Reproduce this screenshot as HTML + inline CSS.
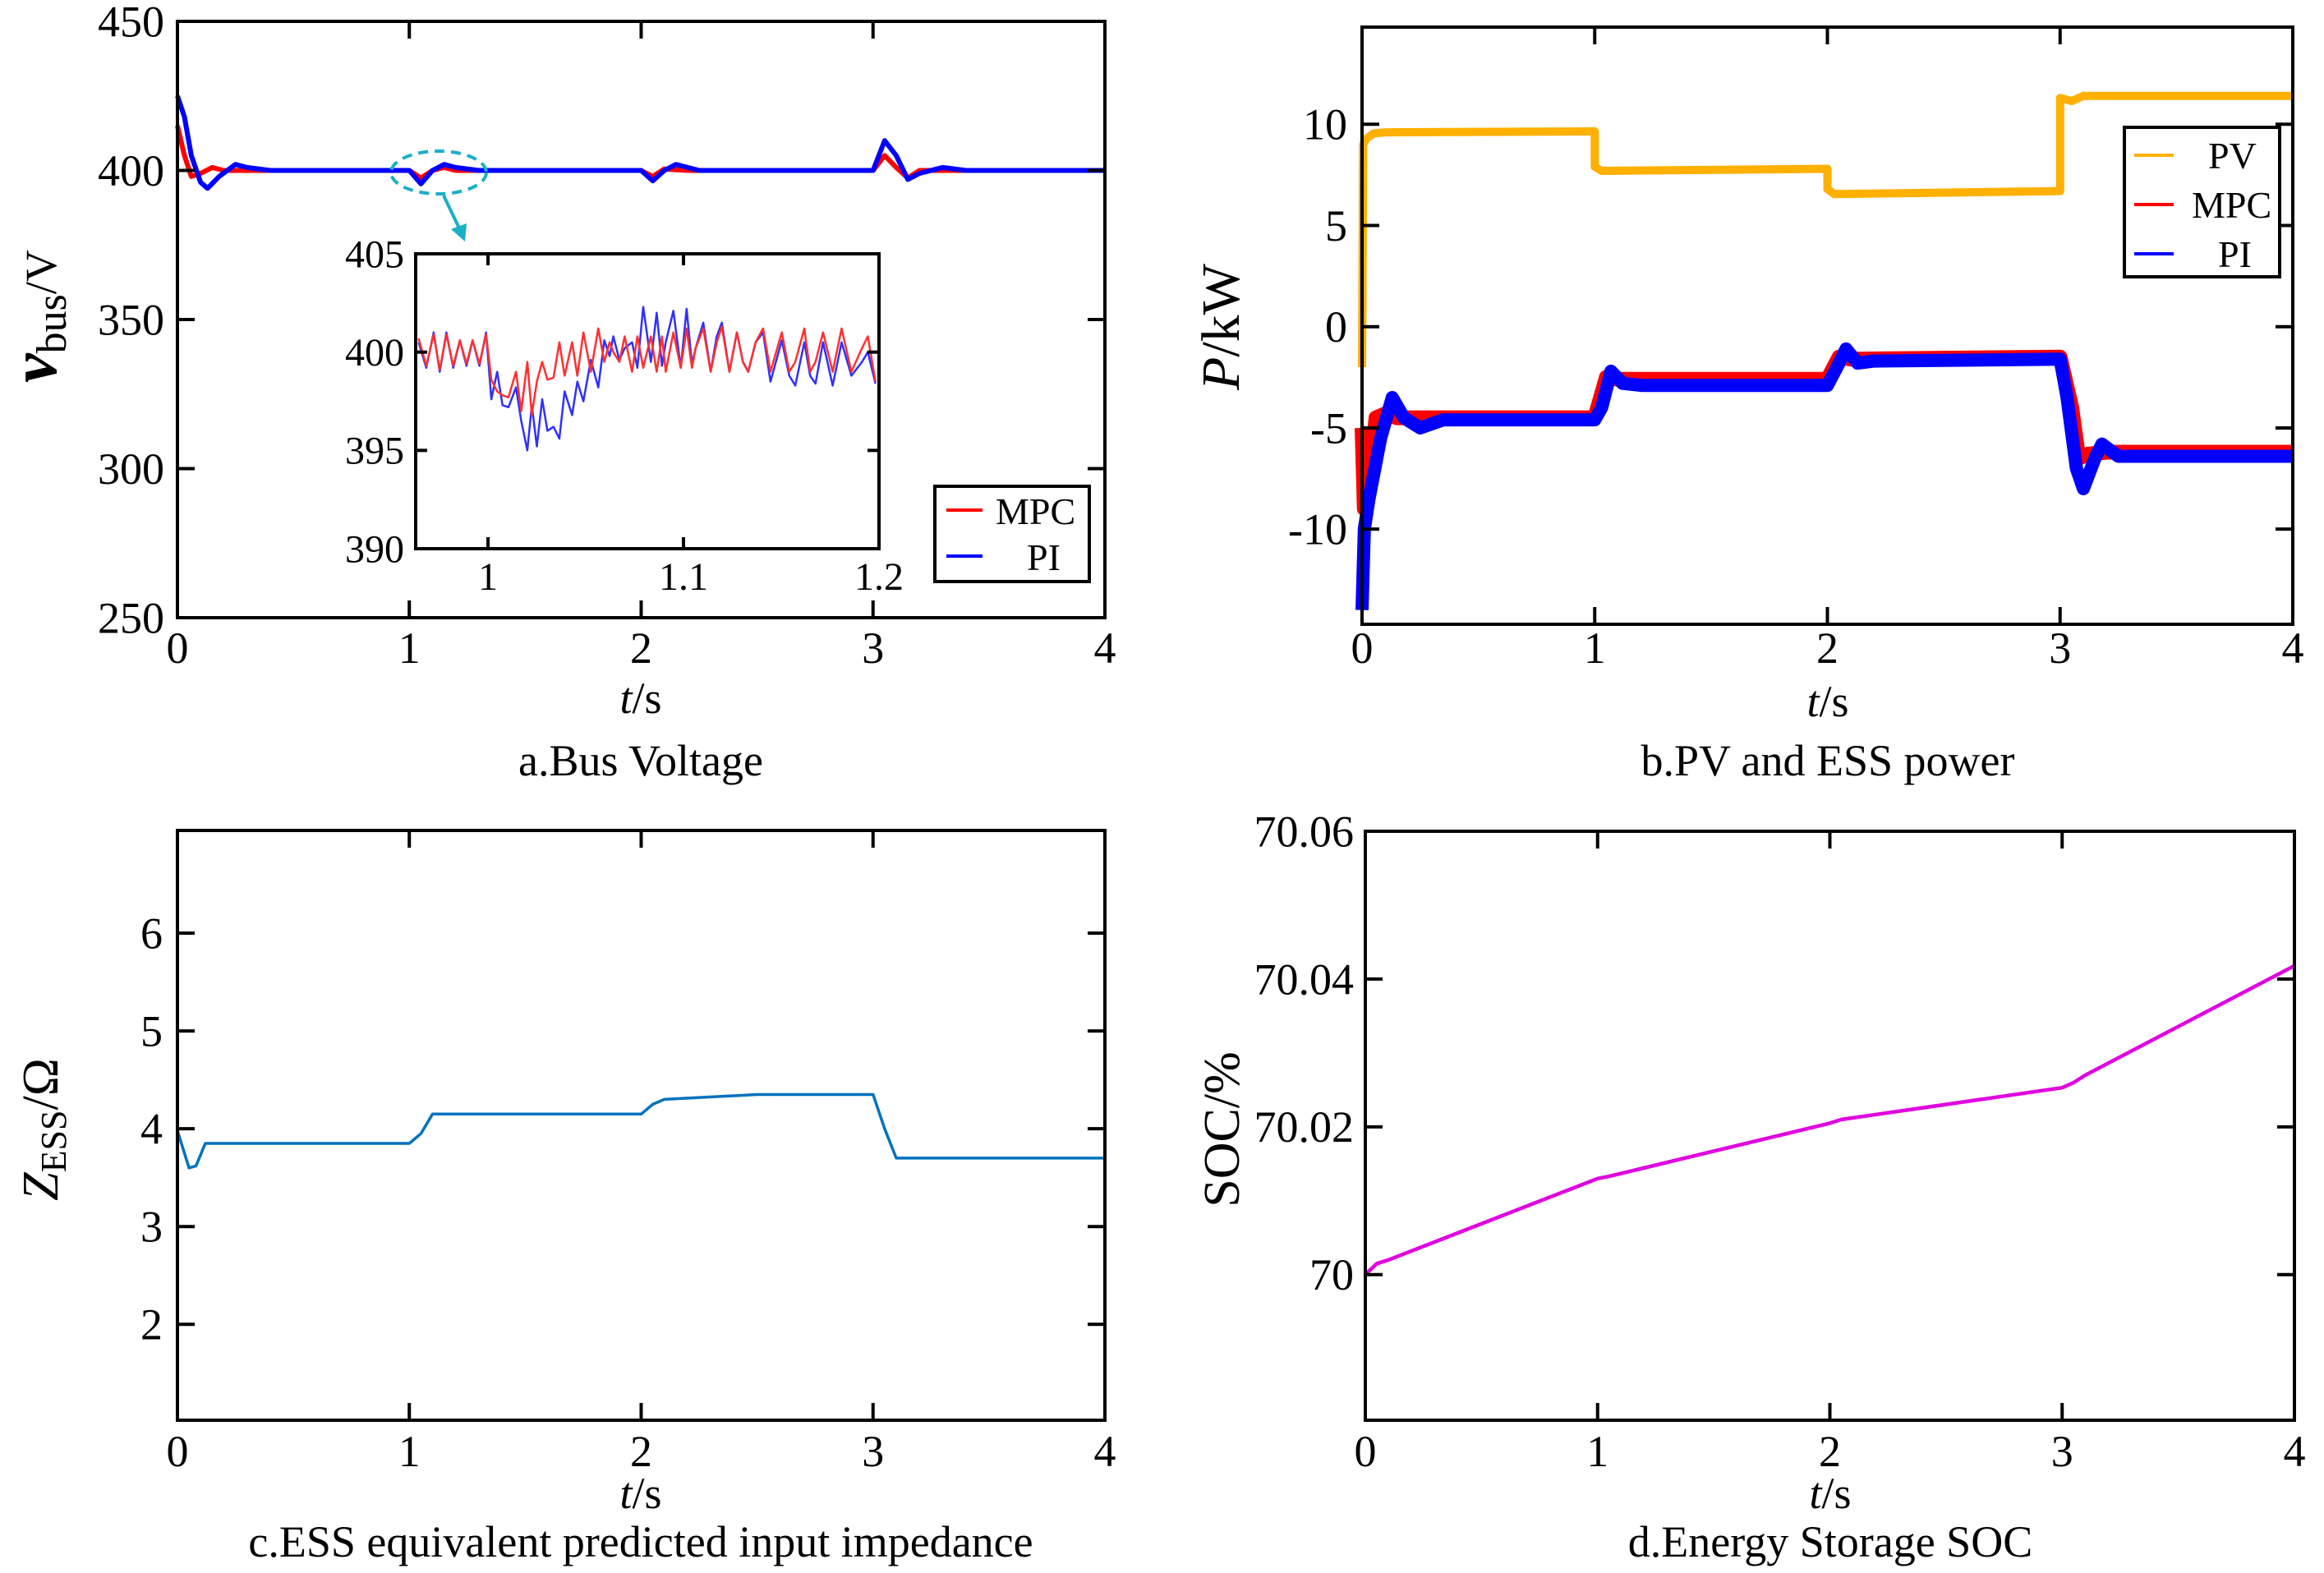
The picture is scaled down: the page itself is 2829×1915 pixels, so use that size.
<!DOCTYPE html>
<html><head><meta charset="utf-8"><style>
html,body{margin:0;padding:0;background:#fff;}
svg{display:block;font-family:"Liberation Serif",serif;}
</style></head><body>
<svg id="fig" width="2829" height="1915" viewBox="0 0 2829 1915" xmlns="http://www.w3.org/2000/svg">
<rect width="2829" height="1915" fill="#fff"/>
<g id="layer"></g>
</svg>
<script>
// ---------- Panel a: bus voltage ----------
const aTicksX = [0,1,2,3,4];
const aTicksY = [250,300,350,400,450];
const aMpcT = [0,0.03,0.06,0.1,0.15,0.2,1.0,1.05,1.1,1.15,1.2,2.0,2.05,2.1,2.2,3.0,3.05,3.1,3.15,3.2,4];
const aMpcV = [415,405,398,399,401,400,400,397.5,400,401,400,400,398,400.5,400,400,405,401,397.5,400,400];
const aPiT = [0,0.03,0.06,0.1,0.13,0.18,0.25,0.3,0.4,1.0,1.05,1.1,1.15,1.2,1.3,2.0,2.05,2.1,2.15,2.25,3.0,3.05,3.1,3.15,3.2,3.3,3.4,4];
const aPiV = [425,418,405,396,394,398,402,401,400,400,395.5,400,402,401,400,400,396.5,400,402,400,400,410,405,397,399,401,400,400];
// inset
const inTicksX = [1,1.1,1.2];
const inTicksY = [390,395,400,405];
const inT = [0.9645,0.9684,0.9722,0.9753,0.9787,0.9822,0.9856,0.9890,0.9921,0.9956,0.9990,1.0017,1.0047,1.0074,1.0105,1.0143,1.0170,1.0201,1.0224,1.0250,1.0277,1.0304,1.0335,1.0365,1.0392,1.0430,1.0457,1.0488,1.0526,1.0564,1.0595,1.0622,1.0641,1.0672,1.0699,1.0737,1.0764,1.0794,1.0833,1.0863,1.0890,1.0909,1.0948,1.0986,1.1016,1.1043,1.1062,1.1101,1.1139,1.1170,1.1196,1.1235,1.1273,1.1304,1.1331,1.1369,1.1407,1.1445,1.1503,1.1541,1.1572,1.1618,1.1648,1.1675,1.1714,1.1763,1.1809,1.1859,1.1913,1.1943,1.1982];
const inPi = [400.5,399.2,401,399,401,399.2,400.6,399.3,400.6,399.3,401,397.6,399,397.3,397.2,398.2,396.5,395.0,397.3,395.2,397.6,396.0,396.2,395.6,398.0,396.8,398.5,397.5,399.6,398.2,400.6,399.8,400.8,399.6,400.2,400.5,399.2,402.3,399.5,402.0,399.3,400.5,402.1,399.2,402.2,399.4,400.2,401.5,399.0,400.8,401.5,399.0,401.0,399.5,399.0,400.5,401.0,398.5,400.6,398.8,398.3,400.5,398.8,398.4,400.5,398.3,400.5,398.8,399.5,400.0,398.4];
const inMpc = [400.7,399.3,400.9,399.1,400.9,399.3,400.6,399.4,400.6,399.4,400.9,398.6,398.0,397.8,397.7,399.0,397.0,399.5,396.8,398.5,399.5,398.6,398.7,400.5,398.8,400.5,398.8,401.0,399.0,401.2,399.5,400.5,400.0,399.5,400.8,399.0,400.8,399.2,400.8,399.0,400.8,399.0,401.0,399.2,401.2,399.2,400.2,401.2,399.0,400.5,401.3,399.0,401.0,399.5,399.0,400.5,401.2,399.0,401.0,399.0,399.5,401.2,399.0,399.5,401.0,399.0,401.2,399.0,400.2,400.8,398.5];
// ---------- Panel b: power ----------
const bTicksX = [0,1,2,3,4];
const bTicksY = [-10,-5,0,5,10];
const bPvT = [0,0.005,0.02,0.05,0.1,1.0,1.0,1.03,2.0,2.0,2.03,3.0,3.0,3.05,3.1,4];
const bPvV = [-2,9,9.3,9.55,9.6,9.65,7.9,7.7,7.8,6.8,6.55,6.7,11.3,11.15,11.4,11.4];
const bMpcT = [0,0.01,0.03,0.06,0.1,0.15,0.3,1.0,1.05,1.1,2.0,2.05,2.1,3.0,3.05,3.08,3.12,3.2,4];
const bMpcV = [-5,-9,-8,-4.5,-4.3,-4.5,-4.5,-4.5,-2.5,-2.6,-2.6,-1.5,-1.6,-1.5,-4,-6.5,-6.3,-6.2,-6.2];
const bPiT = [0,0.01,0.03,0.08,0.13,0.18,0.25,0.35,1.0,1.03,1.07,1.12,1.2,2.0,2.05,2.08,2.13,2.2,3.0,3.03,3.07,3.1,3.15,3.18,3.25,4];
const bPiV = [-14,-10,-8.5,-5.5,-3.5,-4.5,-5,-4.6,-4.6,-4,-2.2,-2.8,-2.9,-2.9,-1.8,-1.1,-1.8,-1.7,-1.6,-3.5,-7,-8,-6.5,-5.8,-6.4,-6.4];
// ---------- Panel c: impedance ----------
const cTicksX = [0,1,2,3,4];
const cTicksY = [2,3,4,5,6];
const cT = [0,0.05,0.08,0.12,1.0,1.05,1.1,2.0,2.05,2.1,2.5,3.0,3.05,3.1,4];
const cV = [3.98,3.6,3.62,3.85,3.85,3.95,4.15,4.15,4.25,4.3,4.35,4.35,4.0,3.7,3.7];
// ---------- Panel d: SOC ----------
const dTicksX = [0,1,2,3,4];
const dTicksY = [70,70.02,70.04,70.06];
const dTickLabels = ["70","70.02","70.04","70.06"];
const dT = [0,0.05,0.1,1.0,1.05,2.0,2.05,3.0,3.05,3.1,4];
const dV = [70.0,70.0015,70.002,70.013,70.0133,70.0205,70.021,70.0253,70.026,70.027,70.0418];

const NS = "http://www.w3.org/2000/svg";
const layer = document.getElementById('layer');
function mk(tag, attrs, parent){
  const e = document.createElementNS(NS, tag);
  for (const k in attrs) e.setAttribute(k, attrs[k]);
  (parent||layer).appendChild(e);
  return e;
}
function scale(d0,d1,r0,r1){ return v => r0 + (v-d0)/(d1-d0)*(r1-r0); }
function pathD(xs,ys,sx,sy){
  let d=''; const n=Math.min(xs.length,ys.length);
  for(let i=0;i<n;i++){ d += (i?'L':'M') + sx(xs[i]).toFixed(1) + ' ' + sy(ys[i]).toFixed(1); }
  return d;
}
function axes(name, L,R,T,B, sx, sy, tx, ty, tyLabels, fs, tickLen, xLabY, yLabX, g){
  const frame = mk('rect',{x:L,y:T,width:R-L,height:B-T,fill:'none',stroke:'#000','stroke-width':4},g);
  
  
  tx.forEach(v=>{
    const x=sx(v);
    const t1=mk('line',{x1:x,y1:B,x2:x,y2:B-tickLen,stroke:'#000','stroke-width':4},g);
    
    
    const t2=mk('line',{x1:x,y1:T,x2:x,y2:T+tickLen,stroke:'#000','stroke-width':4},g);
    
    
    const lb=mk('text',{x:x,y:xLabY,'font-size':fs,'text-anchor':'middle'},g);
    lb.textContent = String(v);
    
    
  });
  ty.forEach((v,i)=>{
    const y=sy(v);
    const t1=mk('line',{x1:L,y1:y,x2:L+tickLen,y2:y,stroke:'#000','stroke-width':4},g);
    
    
    const t2=mk('line',{x1:R,y1:y,x2:R-tickLen,y2:y,stroke:'#000','stroke-width':4},g);
    
    
    const lb=mk('text',{x:yLabX,y:y+fs*0.34,'font-size':fs,'text-anchor':'end'},g);
    lb.textContent = tyLabels ? tyLabels[i] : String(v);
    
    
  });
}
function series(name, xs, ys, sx, sy, color, w, g){
  const p = mk('path',{d:pathD(xs,ys,sx,sy),fill:'none',stroke:color,'stroke-width':w,'stroke-linejoin':'round'},g);
  
  
  return p;
}
function txt(name, x,y,fs,content,anchor,g,extra){
  const t = mk('text',Object.assign({x:x,y:y,'font-size':fs,'text-anchor':anchor||'middle'},extra||{}),g);
  t.innerHTML = content;
  
  
  return t;
}

// ===== Panel a =====
const ga = mk('g',{});


const aL=216,aR=1345,aTop=26,aB=752;
const asx=scale(0,4,aL,aR), asy=scale(250,450,aB,aTop);
series('series-a-mpc', aMpcT, aMpcV, asx, asy, '#ff0000', 6, ga);
series('series-a-pi', aPiT, aPiV, asx, asy, '#0000ff', 6, ga);
axes('panel-a', aL,aR,aTop,aB, asx,asy, aTicksX,aTicksY,null, 54, 21, 807, 200, ga);
const el = mk('ellipse',{cx:534,cy:210,rx:58,ry:26,fill:'none',stroke:'#1ab0c8','stroke-width':4,'stroke-dasharray':'12 8'},ga);


const ar = mk('line',{x1:540,y1:238,x2:560,y2:280,stroke:'#1ab0c8','stroke-width':4},ga);


const ah = mk('polygon',{points:'566,294 549,279 568,272',fill:'#1ab0c8'},ga);


// inset
const iL=506,iR=1070,iTop=309,iB=668;
const isx=scale(0.963,1.2,iL,iR), isy=scale(390,405,iB,iTop);
const inBg = mk('rect',{x:iL,y:iTop,width:iR-iL,height:iB-iTop,fill:'#fff'},ga);


series('series-inset-pi', inT, inPi, isx, isy, '#3030ff', 2.5, ga);
series('series-inset-mpc', inT, inMpc, isx, isy, '#ff3030', 2.5, ga);
axes('inset', iL,iR,iTop,iB, isx,isy, inTicksX,inTicksY,null, 48, 14, 718, 492, ga);
// legend a
const la = mk('rect',{x:1138,y:592,width:188,height:116,fill:'#fff',stroke:'#000','stroke-width':4},ga);


const la1=mk('line',{x1:1152,y1:621,x2:1196,y2:621,stroke:'#ff0000','stroke-width':4},ga);


txt('legend-a-mpc-label',1212,638,46,'MPC','start',ga);
const la2=mk('line',{x1:1152,y1:677,x2:1196,y2:677,stroke:'#0000ff','stroke-width':4},ga);


txt('legend-a-pi-label',1250,694,46,'PI','start',ga);
txt('panel-a-x-axis-title',780,868,54,'<tspan font-style="italic">t</tspan>/s','middle',ga);
txt('panel-a-caption',780,944,54,'a.Bus Voltage','middle',ga);
txt('panel-a-y-axis-title',0,0,54,'<tspan font-style="italic" font-weight="bold" font-size="80">v</tspan><tspan font-size="52" dy="12">bus</tspan><tspan dy="-12">/V</tspan>','middle',ga,{transform:'translate(68,385) rotate(-90)'});

// ===== Panel b =====
const gb = mk('g',{});


const bL=1658,bR=2791,bTop=33,bB=760;
const bsx=scale(0,4,bL,bR), bsy=scale(-14.7,14.8,bB,bTop);
series('series-b-pv', bPvT, bPvV, bsx, bsy, '#ffb000', 10, gb);
series('series-b-mpc', bMpcT, bMpcV, bsx, bsy, '#ff0000', 18, gb);
series('series-b-pi', bPiT, bPiV, bsx, bsy, '#0000ff', 16, gb);
axes('panel-b', bL,bR,bTop,bB, bsx,bsy, bTicksX,bTicksY,null, 54, 21, 807, 1640, gb);
const lb = mk('rect',{x:2586,y:155,width:189,height:182,fill:'#fff',stroke:'#000','stroke-width':4},gb);


[['pv','#ffb000','PV',189,2688],['mpc','#ff0000','MPC',249,2668],['pi','#0000ff','PI',309,2700]].forEach(r=>{
  const l=mk('line',{x1:2598,y1:r[3],x2:2646,y2:r[3],stroke:r[1],'stroke-width':4},gb);
  
  
  txt('legend-b-'+r[0]+'-label',r[4],r[3]+16,46,r[2],'start',gb);
});
txt('panel-b-x-axis-title',2225,872,54,'<tspan font-style="italic">t</tspan>/s','middle',gb);
txt('panel-b-caption',2225,944,54,'b.PV and ESS power','middle',gb);
txt('panel-b-y-axis-title',0,0,66,'<tspan font-style="italic">P</tspan>/kW','middle',gb,{transform:'translate(1508,398) rotate(-90)'});

// ===== Panel c =====
const gc = mk('g',{});


const cL=216,cR=1345,cTop=1011,cB=1729;
const csx=scale(0,4,cL,cR), csy=scale(1.02,7.05,cB,cTop);
series('series-c-impedance', cT, cV, csx, csy, '#0072bd', 3.5, gc);
axes('panel-c', cL,cR,cTop,cB, csx,csy, cTicksX,cTicksY,null, 54, 21, 1785, 198, gc);
txt('panel-c-x-axis-title',780,1836,54,'<tspan font-style="italic">t</tspan>/s','middle',gc);
txt('panel-c-caption',780,1895,54,'c.ESS equivalent predicted input impedance','middle',gc);
txt('panel-c-y-axis-title',0,0,62,'<tspan font-style="italic">Z</tspan><tspan font-size="44" dy="10">ESS</tspan><tspan dy="-10">/Ω</tspan>','middle',gc,{transform:'translate(70,1375) rotate(-90)'});

// ===== Panel d =====
const gd = mk('g',{});


const dL=1662,dR=2793,dTop=1012,dB=1729;
const dsx=scale(0,4,dL,dR), dsy=scale(69.9803,70.06,dB,dTop);
series('series-d-soc', dT, dV, dsx, dsy, '#e000e0', 4.5, gd);
axes('panel-d', dL,dR,dTop,dB, dsx,dsy, dTicksX,dTicksY,dTickLabels, 54, 21, 1785, 1648, gd);
txt('panel-d-x-axis-title',2228,1836,54,'<tspan font-style="italic">t</tspan>/s','middle',gd);
txt('panel-d-caption',2228,1895,54,'d.Energy Storage SOC','middle',gd);
txt('panel-d-y-axis-title',0,0,62,'SOC/%','middle',gd,{transform:'translate(1508,1375) rotate(-90)'});
</script>
</body></html>
